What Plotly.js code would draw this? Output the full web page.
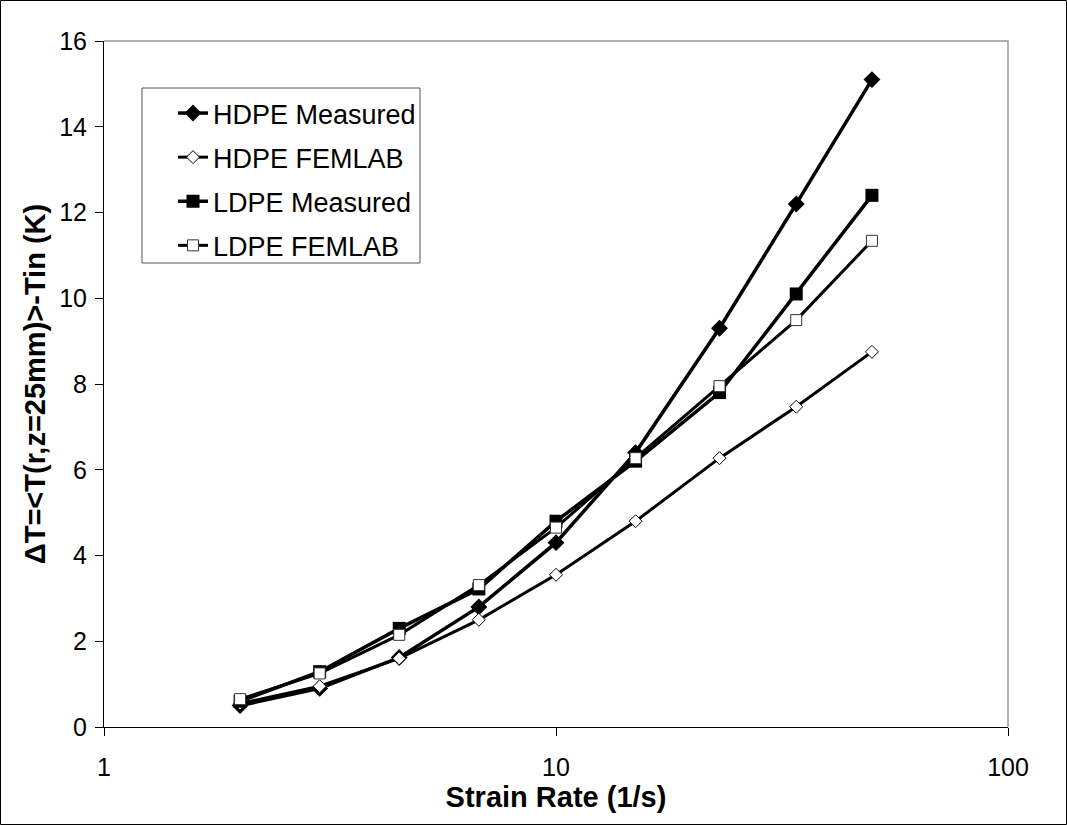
<!DOCTYPE html>
<html>
<head>
<meta charset="utf-8">
<script src="https://cdn.plot.ly/plotly-3.0.1.min.js"></script>
<style>html,body{margin:0;padding:0;background:#fff;}#chart{width:1067px;height:825px;}</style>
</head>
<body>
<div id="chart"></div>
<script>
const strainRate = [2, 3, 4.5, 6.75, 10, 15, 23, 34, 50];
const hdpeMeasured = [0.5, 0.9, 1.62, 2.8, 4.3, 6.4, 9.3, 12.2, 15.1];
const hdpeFemlab = [0.55, 0.95, 1.6, 2.5, 3.55, 4.8, 6.27, 7.47, 8.75];
const ldpeMeasured = [0.6, 1.29, 2.3, 3.22, 4.8, 6.2, 7.8, 10.1, 12.4];
const ldpeFemlab = [0.65, 1.25, 2.15, 3.31, 4.65, 6.27, 7.95, 9.49, 11.34];
const seriesNames = ["HDPE Measured", "HDPE FEMLAB", "LDPE Measured", "LDPE FEMLAB"];
const xTickVals = [1, 10, 100];
const xTickText = ["1", "10", "100"];

const L = 104, R = 1008, T = 41, B = 727;
const PW = R - L, PH = B - T;
const FONT = 'Liberation Sans, Arial, sans-serif';

const traces = [
  {x: strainRate, y: hdpeMeasured, name: seriesNames[0], legendgroup: 'g1', mode: 'lines+markers',
   line: {color: '#000', width: 3.5},
   marker: {symbol: 'diamond', size: 13, color: '#000', line: {color: '#000', width: 0}}},
  {x: strainRate, y: hdpeFemlab, name: seriesNames[1], legendgroup: 'g2', mode: 'lines+markers',
   line: {color: '#000', width: 3},
   marker: {symbol: 'diamond', size: 10, color: '#fff', line: {color: '#000', width: 1}}},
  {x: strainRate, y: ldpeMeasured, name: seriesNames[2], legendgroup: 'g3', mode: 'lines+markers',
   line: {color: '#000', width: 3.5},
   marker: {symbol: 'square', size: 13, color: '#000', line: {color: '#000', width: 0}}},
  {x: strainRate, y: ldpeFemlab, name: seriesNames[3], legendgroup: 'g4', mode: 'lines+markers',
   line: {color: '#000', width: 3},
   marker: {symbol: 'square', size: 11, color: '#fff', line: {color: '#333', width: 1}}}
];

const layout = {
  width: 1067, height: 825,
  margin: {l: L, r: 1067 - R, t: T, b: 825 - B, pad: 0},
  paper_bgcolor: '#fff', plot_bgcolor: '#fff',
  font: {family: FONT, color: '#000', size: 25},
  showlegend: true,
  legend: {
    x: (173 - L) / PW, y: (B - 89) / PH, xanchor: 'left', yanchor: 'top',
    borderwidth: 0, bgcolor: 'rgba(0,0,0,0)',
    font: {size: 27, family: FONT},
    tracegroupgap: 6
  },
  xaxis: {
    type: 'log', range: [0, 2],
    tickmode: 'array', tickvals: xTickVals, ticktext: xTickText,
    ticks: 'outside', ticklen: 8, tickcolor: '#000', tickwidth: 1,
    ticklabelstandoff: 10,
    showline: true, linecolor: '#000', linewidth: 1,
    showgrid: false, zeroline: false,
    tickfont: {size: 25},
    title: {text: 'Strain Rate (1/s)', font: {size: 29, family: FONT, weight: 'bold'}, standoff: 6}
  },
  yaxis: {
    range: [0, 16], dtick: 2, tick0: 0,
    ticks: 'outside', ticklen: 8, tickcolor: '#000', tickwidth: 1,
    ticklabelstandoff: 3,
    showline: true, linecolor: '#000', linewidth: 1,
    showgrid: false, zeroline: false,
    tickfont: {size: 25},
    title: {text: 'ΔT=&lt;T(r,z=25mm)&gt;-Tin (K)', font: {size: 29, family: FONT, weight: 'bold'}, standoff: 5}
  },
  shapes: [
    {type: 'path', xref: 'paper', yref: 'paper',
     path: 'M 0 1 L 1 1 L 1 0', line: {color: '#999', width: 1.5}},
    {type: 'rect', xref: 'paper', yref: 'paper', layer: 'above',
     x0: (142 - L) / PW, x1: (420 - L) / PW,
     y0: (B - 263) / PH, y1: (B - 88) / PH,
     line: {color: '#555', width: 1}, fillcolor: 'rgba(0,0,0,0)'},
    {type: 'rect', xref: 'paper', yref: 'paper',
     x0: (0.5 - L) / PW, x1: (1066.5 - L) / PW,
     y0: (B - 824.5) / PH, y1: (B - 0.5) / PH,
     line: {color: '#000', width: 1}, fillcolor: 'rgba(0,0,0,0)'}
  ]
};

Plotly.newPlot('chart', traces, layout, {staticPlot: true});
</script>
</body>
</html>
